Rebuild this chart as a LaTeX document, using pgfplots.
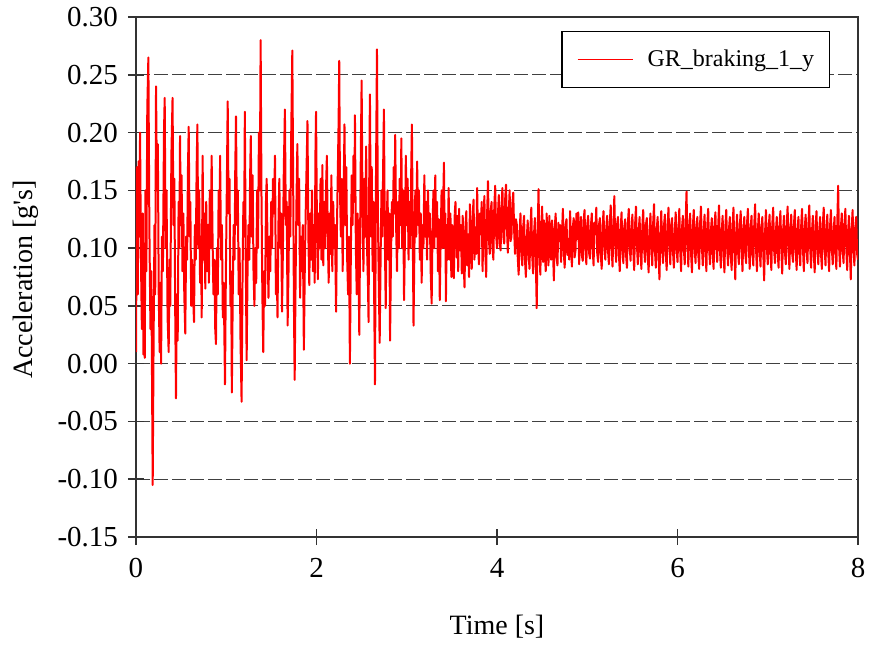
\documentclass[border=0pt]{standalone}
\usepackage{pgfplots}
\pgfplotsset{compat=1.18}
\usepackage{fontspec}
\setmainfont{Liberation Serif}

% acceleration trace, first 3.5 s
\pgfplotstableread{
t a
0.000 0.010
0.010 0.170
0.020 0.060
0.028 0.175
0.036 0.110
0.045 0.200
0.055 0.090
0.065 0.030
0.075 0.130
0.082 0.008
0.090 0.090
0.097 0.005
0.105 0.150
0.115 0.080
0.125 0.220
0.137 0.265
0.148 0.120
0.160 0.030
0.170 0.080
0.185 -0.105
0.195 0.020
0.205 0.120
0.213 0.060
0.222 0.240
0.232 0.150
0.242 0.190
0.252 0.060
0.262 0.010
0.270 0.070
0.278 0.000
0.288 0.110
0.298 0.080
0.310 0.200
0.318 0.230
0.328 0.100
0.338 0.150
0.350 0.040
0.362 0.010
0.372 0.090
0.380 0.050
0.392 0.180
0.405 0.230
0.415 0.120
0.425 0.160
0.435 0.040
0.443 -0.030
0.452 0.060
0.462 0.020
0.472 0.140
0.480 0.100
0.488 0.197
0.496 0.120
0.505 0.163
0.515 0.080
0.525 0.130
0.535 0.060
0.546 0.026
0.556 0.110
0.566 0.090
0.576 0.170
0.584 0.205
0.594 0.110
0.602 0.140
0.612 0.050
0.622 0.090
0.632 0.060
0.643 0.036
0.652 0.120
0.662 0.090
0.672 0.170
0.680 0.207
0.690 0.100
0.700 0.150
0.710 0.070
0.720 0.110
0.728 0.040
0.738 0.180
0.748 0.090
0.758 0.130
0.768 0.065
0.778 0.140
0.788 0.080
0.798 0.120
0.808 0.070
0.818 0.150
0.828 0.100
0.838 0.180
0.848 0.110
0.858 0.060
0.868 0.090
0.878 0.030
0.886 0.017
0.896 0.100
0.906 0.060
0.916 0.150
0.924 0.110
0.932 0.180
0.942 0.090
0.952 0.120
0.962 0.040
0.972 0.070
0.986 -0.018
0.996 0.080
1.006 0.150
1.016 0.227
1.026 0.130
1.036 0.160
1.046 0.050
1.054 0.080
1.062 -0.025
1.072 0.060
1.082 0.120
1.092 0.090
1.100 0.170
1.108 0.214
1.118 0.120
1.128 0.150
1.138 0.060
1.148 0.100
1.158 0.020
1.170 -0.033
1.180 0.070
1.190 0.140
1.198 0.110
1.206 0.218
1.216 0.090
1.226 0.003
1.236 0.080
1.246 0.120
1.256 0.090
1.264 0.160
1.272 0.197
1.282 0.110
1.292 0.163
1.302 0.080
1.312 0.050
1.322 0.100
1.332 0.070
1.342 0.150
1.352 0.100
1.362 0.200
1.372 0.150
1.381 0.280
1.390 0.150
1.400 0.060
1.410 0.010
1.420 0.080
1.430 0.050
1.440 0.140
1.448 0.160
1.458 0.100
1.468 0.057
1.478 0.110
1.488 0.080
1.498 0.140
1.508 0.100
1.518 0.160
1.528 0.130
1.540 0.180
1.550 0.060
1.558 0.090
1.568 0.040
1.578 0.120
1.588 0.160
1.598 0.100
1.608 0.130
1.618 0.045
1.628 0.100
1.638 0.170
1.650 0.220
1.660 0.120
1.670 0.140
1.680 0.033
1.690 0.080
1.700 0.150
1.710 0.110
1.720 0.200
1.732 0.271
1.742 0.150
1.750 0.050
1.758 -0.014
1.768 0.070
1.778 0.140
1.788 0.190
1.798 0.120
1.808 0.160
1.818 0.057
1.828 0.110
1.838 0.080
1.848 0.120
1.860 0.012
1.870 0.080
1.880 0.130
1.890 0.170
1.900 0.210
1.910 0.110
1.920 0.068
1.930 0.130
1.940 0.090
1.950 0.150
1.960 0.080
1.970 0.120
1.980 0.070
1.988 0.180
1.995 0.218
2.005 0.120
2.015 0.073
2.025 0.130
2.035 0.100
2.045 0.160
2.055 0.090
2.065 0.172
2.075 0.085
2.085 0.140
2.095 0.100
2.105 0.150
2.115 0.180
2.125 0.110
2.135 0.070
2.145 0.130
2.155 0.095
2.165 0.163
2.175 0.080
2.185 0.140
2.195 0.100
2.205 0.120
2.217 0.045
2.227 0.120
2.237 0.170
2.245 0.210
2.252 0.262
2.260 0.150
2.270 0.110
2.280 0.160
2.290 0.080
2.300 0.140
2.310 0.207
2.320 0.120
2.330 0.170
2.340 0.090
2.350 0.060
2.360 0.110
2.370 0.000
2.380 0.090
2.390 0.163
2.400 0.120
2.410 0.180
2.420 0.140
2.426 0.215
2.436 0.100
2.446 0.060
2.456 0.130
2.466 0.080
2.474 0.025
2.484 0.120
2.492 0.190
2.500 0.245
2.510 0.130
2.520 0.080
2.530 0.160
2.540 0.110
2.550 0.188
2.560 0.100
2.570 0.070
2.577 0.036
2.585 0.170
2.592 0.233
2.602 0.110
2.612 0.170
2.622 0.080
2.632 0.140
2.640 0.050
2.648 -0.018
2.658 0.150
2.670 0.272
2.680 0.130
2.690 0.070
2.700 0.018
2.710 0.090
2.720 0.150
2.730 0.110
2.740 0.180
2.747 0.220
2.757 0.110
2.767 0.048
2.777 0.120
2.787 0.150
2.797 0.090
2.807 0.130
2.815 0.020
2.825 0.090
2.835 0.140
2.845 0.110
2.855 0.170
2.865 0.130
2.872 0.198
2.882 0.120
2.892 0.080
2.902 0.140
2.912 0.100
2.922 0.160
2.932 0.120
2.940 0.195
2.950 0.100
2.960 0.150
2.970 0.055
2.980 0.110
2.990 0.180
3.000 0.120
3.010 0.160
3.020 0.090
3.030 0.140
3.040 0.100
3.050 0.170
3.057 0.207
3.067 0.110
3.075 0.033
3.085 0.100
3.095 0.150
3.105 0.110
3.115 0.175
3.125 0.120
3.135 0.150
3.145 0.090
3.155 0.130
3.165 0.070
3.175 0.120
3.185 0.100
3.195 0.163
3.205 0.110
3.215 0.140
3.225 0.090
3.235 0.150
3.245 0.110
3.255 0.130
3.265 0.080
3.276 0.052
3.286 0.120
3.296 0.150
3.306 0.100
3.316 0.163
3.326 0.110
3.336 0.140
3.346 0.080
3.356 0.125
3.366 0.055
3.376 0.110
3.386 0.150
3.396 0.100
3.404 0.140
3.412 0.174
3.420 0.100
3.428 0.130
3.434 0.054
3.444 0.120
3.454 0.090
3.464 0.152
3.474 0.090
3.484 0.130
3.494 0.075
3.504 0.120
3.514 0.080
3.522 0.074
3.532 0.130
}\brakedata

\begin{document}
\begin{tikzpicture}
  \path[use as bounding box] (-68pt,-54pt) rectangle (367.5pt,268.5pt);
  \begin{axis}[
      width=361pt, height=260pt, scale only axis,
      xmin=0, xmax=8,
      ymin=-0.15, ymax=0.30,
      xtick={0,2,4,6,8},
      xticklabels={\textrm{0},\textrm{2},\textrm{4},\textrm{6},\textrm{8}},
      ytick={-0.15,-0.1,-0.05,0,0.05,0.1,0.15,0.2,0.25,0.3},
      yticklabels={\textrm{-0.15},\textrm{-0.10},\textrm{-0.05},\textrm{0.00},\textrm{0.05},
        \textrm{0.10},\textrm{0.15},\textrm{0.20},\textrm{0.25},\textrm{0.30}},
      tick pos=left,
      tick align=center,
      major tick length=8pt,
      axis line style={black!80, line width=0.8pt},
      tick style={black!80, line width=0.8pt},
      ymajorgrids=true,
      grid style={black!75, line width=0.5pt, dash pattern=on 7pt off 2pt},
      ticklabel style={font=\fontsize{14.5}{16}\selectfont},
      xticklabel style={yshift=-3pt},
      yticklabel style={xshift=-1.5pt},
      label style={font=\fontsize{14}{16}\selectfont},
      xlabel={Time [s]},
      ylabel={Acceleration [g\textquotesingle s]},
      xlabel style={at={(axis description cs:0.5,-0.173)}, anchor=center},
      ylabel style={at={(axis description cs:-0.153,0.495)}, anchor=center},
      legend style={
          at={(axis description cs:0.961,0.973)}, anchor=north east,
          draw=black, line width=0.6pt, fill=white,
          font=\fontsize{12}{14}\selectfont,
          inner xsep=7.5pt, inner ysep=9pt,
          nodes={inner sep=0pt},
        },
      legend image code/.code={
          \draw[red, line width=0.6pt] (0pt,0pt) -- (27.5pt,0pt);
          \path (34.5pt,0pt);},
    ]
    \addplot[red, line width=1pt, line join=round] table[x=t, y=a] {\brakedata};
    \addlegendentry{GR\_braking\_1\_y\hspace{3.5pt}}
    % settled part after 3.5 s, one reading every 0.01 s
    \addplot[red, line width=1pt, line join=round, forget plot] coordinates {
      (3.532,0.130)
      (3.54,0.140) (3.55,0.092) (3.56,0.128) (3.57,0.080) (3.58,0.134) (3.59,0.098) (3.60,0.120) (3.61,0.078) (3.62,0.128) (3.63,0.090)
      (3.64,0.066) (3.65,0.118) (3.66,0.132) (3.67,0.085) (3.68,0.112) (3.69,0.075) (3.70,0.138) (3.71,0.100) (3.72,0.082) (3.73,0.126)
      (3.74,0.142) (3.75,0.090) (3.76,0.118) (3.77,0.095) (3.78,0.152) (3.79,0.104) (3.80,0.086) (3.81,0.130) (3.82,0.112) (3.83,0.140)
      (3.84,0.080) (3.85,0.122) (3.86,0.145) (3.87,0.098) (3.88,0.075) (3.89,0.128) (3.90,0.158) (3.91,0.108) (3.92,0.095) (3.93,0.132)
      (3.94,0.140) (3.95,0.100) (3.96,0.090) (3.97,0.136) (3.98,0.154) (3.99,0.112) (4.00,0.100) (4.01,0.128) (4.02,0.146) (4.03,0.104)
      (4.04,0.098) (4.05,0.136) (4.06,0.152) (4.07,0.110) (4.08,0.104) (4.09,0.142) (4.10,0.155) (4.11,0.118) (4.12,0.096) (4.13,0.130)
      (4.14,0.150) (4.15,0.106) (4.16,0.110) (4.17,0.138) (4.18,0.148) (4.19,0.115) (4.20,0.095) (4.21,0.125) (4.22,0.120) (4.23,0.092)
      (4.24,0.077) (4.25,0.112) (4.26,0.130) (4.27,0.098) (4.28,0.085) (4.29,0.118) (4.30,0.128) (4.31,0.090) (4.32,0.075) (4.33,0.108)
      (4.34,0.124) (4.35,0.096) (4.36,0.082) (4.37,0.116) (4.38,0.135) (4.39,0.094) (4.40,0.078) (4.41,0.112) (4.42,0.126) (4.43,0.090)
      (4.44,0.048) (4.45,0.110) (4.46,0.151) (4.47,0.100) (4.48,0.077) (4.49,0.118) (4.50,0.136)
      (4.51,0.088) (4.52,0.124) (4.53,0.096) (4.54,0.080) (4.55,0.130) (4.56,0.104) (4.57,0.085) (4.58,0.128) (4.59,0.098) (4.60,0.090)
      (4.61,0.124) (4.62,0.100) (4.63,0.072) (4.64,0.118) (4.65,0.130) (4.66,0.092) (4.67,0.085) (4.68,0.122) (4.69,0.106) (4.70,0.120)
      (4.71,0.088) (4.72,0.112) (4.73,0.134) (4.74,0.096) (4.75,0.083) (4.76,0.120) (4.77,0.125) (4.78,0.094) (4.79,0.108) (4.80,0.090)
      (4.81,0.132) (4.82,0.102) (4.83,0.084) (4.84,0.118) (4.85,0.126) (4.86,0.092) (4.87,0.098) (4.88,0.130) (4.89,0.108) (4.90,0.131)
      (4.91,0.086) (4.92,0.110) (4.93,0.127) (4.94,0.094) (4.95,0.089) (4.96,0.124) (4.97,0.133) (4.98,0.098) (4.99,0.086) (5.00,0.120)
      (5.01,0.128) (5.02,0.096) (5.03,0.091) (5.04,0.118) (5.05,0.130) (5.06,0.100) (5.07,0.085) (5.08,0.122) (5.09,0.112) (5.10,0.135)
      (5.11,0.096) (5.12,0.088) (5.13,0.120) (5.14,0.126) (5.15,0.094) (5.16,0.082) (5.17,0.118) (5.18,0.132) (5.19,0.102) (5.20,0.090)
      (5.21,0.116) (5.22,0.128) (5.23,0.098) (5.24,0.086) (5.25,0.122) (5.26,0.137) (5.27,0.100) (5.28,0.084) (5.29,0.118) (5.30,0.145)
      (5.31,0.104) (5.32,0.088) (5.33,0.120) (5.34,0.127) (5.35,0.096) (5.36,0.080) (5.37,0.115) (5.38,0.131) (5.39,0.098) (5.40,0.087)
      (5.41,0.118) (5.42,0.125) (5.43,0.094) (5.44,0.083) (5.45,0.121) (5.46,0.134) (5.47,0.102) (5.48,0.089) (5.49,0.116) (5.50,0.129)
      (5.51,0.098) (5.52,0.081) (5.53,0.120) (5.54,0.136) (5.55,0.104) (5.56,0.086) (5.57,0.114) (5.58,0.127) (5.59,0.096) (5.60,0.082)
      (5.61,0.118) (5.62,0.133) (5.63,0.100) (5.64,0.088) (5.65,0.120) (5.66,0.126) (5.67,0.094) (5.68,0.079) (5.69,0.112) (5.70,0.130)
      (5.71,0.102) (5.72,0.085) (5.73,0.121) (5.74,0.138) (5.75,0.098) (5.76,0.083) (5.77,0.116) (5.78,0.127) (5.79,0.094) (5.80,0.073)
      (5.81,0.110) (5.82,0.132) (5.83,0.100) (5.84,0.087) (5.85,0.119) (5.86,0.129) (5.87,0.096) (5.88,0.081) (5.89,0.118) (5.90,0.135)
      (5.91,0.104) (5.92,0.086) (5.93,0.120) (5.94,0.126) (5.95,0.097) (5.96,0.083) (5.97,0.114) (5.98,0.131) (5.99,0.100) (6.00,0.088)
      (6.01,0.116) (6.02,0.134) (6.03,0.098) (6.04,0.080) (6.05,0.118) (6.06,0.128) (6.07,0.100) (6.08,0.086) (6.09,0.122) (6.10,0.149)
      (6.11,0.104) (6.12,0.084) (6.13,0.117) (6.14,0.130) (6.15,0.096) (6.16,0.079) (6.17,0.118) (6.18,0.133) (6.19,0.100) (6.20,0.087)
      (6.21,0.118) (6.22,0.127) (6.23,0.095) (6.24,0.082) (6.25,0.121) (6.26,0.136) (6.27,0.102) (6.28,0.085) (6.29,0.114) (6.30,0.129)
      (6.31,0.097) (6.32,0.080) (6.33,0.119) (6.34,0.134) (6.35,0.100) (6.36,0.086) (6.37,0.115) (6.38,0.126) (6.39,0.095) (6.40,0.082)
      (6.41,0.120) (6.42,0.131) (6.43,0.101) (6.44,0.088) (6.45,0.117) (6.46,0.137) (6.47,0.099) (6.48,0.083) (6.49,0.114) (6.50,0.128)
      (6.51,0.096) (6.52,0.079) (6.53,0.118) (6.54,0.133) (6.55,0.101) (6.56,0.085) (6.57,0.116) (6.58,0.127) (6.59,0.094) (6.60,0.081)
      (6.61,0.119) (6.62,0.135) (6.63,0.100) (6.64,0.073) (6.65,0.112) (6.66,0.129) (6.67,0.098) (6.68,0.086) (6.69,0.118) (6.70,0.132)
      (6.71,0.100) (6.72,0.080) (6.73,0.116) (6.74,0.127) (6.75,0.096) (6.76,0.087) (6.77,0.121) (6.78,0.134) (6.79,0.101) (6.80,0.082)
      (6.81,0.116) (6.82,0.128) (6.83,0.095) (6.84,0.085) (6.85,0.119) (6.86,0.138) (6.87,0.100) (6.88,0.080) (6.89,0.114) (6.90,0.130)
      (6.91,0.098) (6.92,0.084) (6.93,0.118) (6.94,0.127) (6.95,0.097) (6.96,0.072) (6.97,0.113) (6.98,0.133) (6.99,0.101) (7.00,0.086)
      (7.01,0.117) (7.02,0.129) (7.03,0.095) (7.04,0.081) (7.05,0.120) (7.06,0.135) (7.07,0.099) (7.08,0.087) (7.09,0.114) (7.10,0.127)
      (7.11,0.096) (7.12,0.083) (7.13,0.119) (7.14,0.132) (7.15,0.100) (7.16,0.078) (7.17,0.115) (7.18,0.128) (7.19,0.097) (7.20,0.086)
      (7.21,0.119) (7.22,0.136) (7.23,0.101) (7.24,0.082) (7.25,0.116) (7.26,0.129) (7.27,0.096) (7.28,0.088) (7.29,0.120) (7.30,0.133)
      (7.31,0.099) (7.32,0.081) (7.33,0.115) (7.34,0.127) (7.35,0.096) (7.36,0.085) (7.37,0.119) (7.38,0.134) (7.39,0.100) (7.40,0.080)
      (7.41,0.117) (7.42,0.129) (7.43,0.098) (7.44,0.087) (7.45,0.120) (7.46,0.137) (7.47,0.101) (7.48,0.083) (7.49,0.114) (7.50,0.128)
      (7.51,0.096) (7.52,0.079) (7.53,0.118) (7.54,0.132) (7.55,0.100) (7.56,0.086) (7.57,0.115) (7.58,0.127) (7.59,0.095) (7.60,0.082)
      (7.61,0.120) (7.62,0.135) (7.63,0.101) (7.64,0.085) (7.65,0.116) (7.66,0.129) (7.67,0.097) (7.68,0.080) (7.69,0.118) (7.70,0.133)
      (7.71,0.100) (7.72,0.086) (7.73,0.114) (7.74,0.127) (7.75,0.096) (7.76,0.082) (7.77,0.120) (7.78,0.154) (7.79,0.102) (7.80,0.084)
      (7.81,0.117) (7.82,0.130) (7.83,0.098) (7.84,0.087) (7.85,0.121) (7.86,0.134) (7.87,0.100) (7.88,0.081) (7.89,0.114) (7.90,0.128)
      (7.91,0.097) (7.92,0.073) (7.93,0.116) (7.94,0.133) (7.95,0.100) (7.96,0.085) (7.97,0.118) (7.98,0.127) (7.99,0.095) (8.00,0.090)
    };
  \end{axis}
\end{tikzpicture}
\end{document}
